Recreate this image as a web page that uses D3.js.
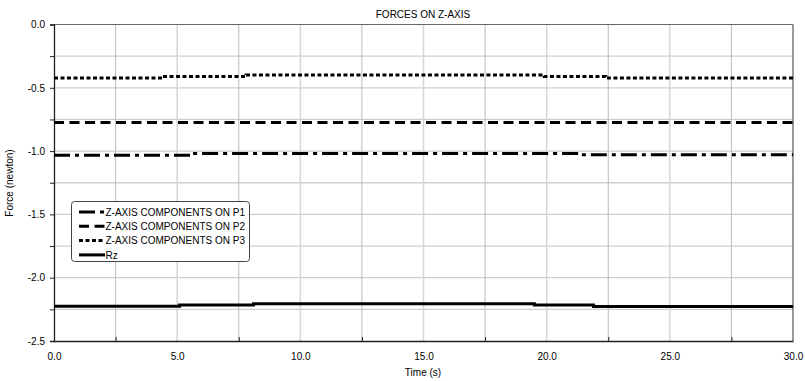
<!DOCTYPE html>
<html>
<head>
<meta charset="utf-8">
<script src="https://cdn.jsdelivr.net/npm/d3@7"></script>
<style>
  body { margin: 0; background: #fff; }
  svg text { font-family: "Liberation Sans", Arial, sans-serif; font-size: 10px; fill: #000; }
</style>
</head>
<body>
<svg id="chart" width="805" height="381"></svg>
<script>
(function () {
  'use strict';

  // step series: time of each change and the value held from it
  var p1Times = [0, 5.6, 21.4, 30],
    p1Values = [-1.033, -1.018, -1.028, -1.028],
    p2Times = [0, 30],
    p2Values = [-0.775, -0.775],
    p3Times = [0, 4.4, 7.8, 19.9, 22.4, 30],
    p3Values = [-0.422, -0.41, -0.398, -0.41, -0.422, -0.422],
    rzTimes = [0, 5.1, 8.1, 19.5, 21.9, 30],
    rzValues = [-2.226, -2.216, -2.206, -2.216, -2.228, -2.228];

  var xTicks = [0, 5, 10, 15, 20, 25, 30],
    xMinor = [2.5, 7.5, 12.5, 17.5, 22.5, 27.5],
    yTicks = [0, -0.25, -0.5, -0.75, -1, -1.25, -1.5, -1.75, -2, -2.25, -2.5];

  var series = [
    { name: 'Z-AXIS COMPONENTS ON P1', t: p1Times, v: p1Values, dash: '16,5,4,5' },
    { name: 'Z-AXIS COMPONENTS ON P2', t: p2Times, v: p2Values, dash: '10,5.5' },
    { name: 'Z-AXIS COMPONENTS ON P3', t: p3Times, v: p3Values, dash: '4,2.5' },
    { name: 'Rz', t: rzTimes, v: rzValues, dash: null }
  ];

  var svg = d3.select('#chart'),
    left = 54, right = 793, top = 24.5, bottom = 341;

  var x = d3.scaleLinear().domain([0, 30]).range([left, right]),
    y = d3.scaleLinear().domain([-2.5, 0]).range([bottom, top]);

  // grid
  svg.append('g').selectAll('line.h')
    .data(yTicks.slice(1, -1))
    .enter().append('line')
    .attr('x1', left).attr('x2', right)
    .attr('y1', function (d) { return y(d); })
    .attr('y2', function (d) { return y(d); })
    .attr('stroke', '#cfcfcf').attr('stroke-width', 1.3);

  svg.append('g').selectAll('line.v')
    .data(xMinor.concat(xTicks.slice(1, -1)))
    .enter().append('line')
    .attr('x1', function (d) { return x(d); })
    .attr('x2', function (d) { return x(d); })
    .attr('y1', top).attr('y2', bottom)
    .attr('stroke', function (d) { return d % 5 === 0 ? '#d6d6d6' : '#bcbcbc'; })
    .attr('stroke-width', function (d) { return d % 5 === 0 ? 1.5 : 1; });

  // frame top / right
  svg.append('line').attr('x1', left).attr('x2', right).attr('y1', top).attr('y2', top)
    .attr('stroke', '#666').attr('stroke-width', 1.2);
  svg.append('line').attr('x1', right).attr('x2', right).attr('y1', top).attr('y2', bottom)
    .attr('stroke', '#555').attr('stroke-width', 1.2);

  // axes
  var yAxis = svg.append('g')
    .attr('transform', 'translate(' + left + ',0)')
    .call(d3.axisLeft(y).tickValues(yTicks).tickSize(4).tickPadding(5)
      .tickFormat(function (d) {
        return Math.abs(d * 2 - Math.round(d * 2)) < 1e-9 ? d.toFixed(1) : '';
      }));

  var xAxis = svg.append('g')
    .attr('transform', 'translate(0,' + bottom + ')')
    .call(d3.axisBottom(x).tickValues(xTicks).tickSize(0).tickPadding(12)
      .tickFormat(function (d) { return d.toFixed(1); }));

  svg.append('g')
    .attr('transform', 'translate(0,' + bottom + ')')
    .call(d3.axisBottom(x).tickValues(xMinor).tickSize(-4).tickFormat(''))
    .select('.domain').remove();

  svg.selectAll('.domain').attr('stroke', '#222').attr('stroke-width', 1.3);
  svg.selectAll('.tick line').attr('stroke', '#222');
  svg.selectAll('.tick text').attr('font-size', 10).attr('fill', '#111')
    .attr('font-family', '"Liberation Sans", Arial, sans-serif');

  // lines
  var line = d3.line()
    .x(function (d) { return x(d[0]); })
    .y(function (d) { return y(d[1]); })
    .curve(d3.curveStepAfter);

  series.forEach(function (s) {
    svg.append('path')
      .datum(d3.zip(s.t, s.v))
      .attr('d', line)
      .attr('fill', 'none')
      .attr('stroke', '#000')
      .attr('stroke-width', 3)
      .attr('stroke-dasharray', s.dash);
  });

  // titles
  svg.append('text').attr('x', 423).attr('y', 18).attr('text-anchor', 'middle')
    .text('FORCES ON Z-AXIS');
  svg.append('text').attr('x', 423).attr('y', 376).attr('text-anchor', 'middle')
    .text('Time (s)');
  svg.append('text').attr('transform', 'translate(13,183) rotate(-90)')
    .attr('text-anchor', 'middle').text('Force (newton)');

  // legend
  var lg = svg.append('g');
  lg.append('rect').attr('x', 71.5).attr('y', 201.5).attr('width', 178).attr('height', 60)
    .attr('rx', 3).attr('fill', '#fff').attr('stroke', '#444').attr('stroke-width', 1);

  series.forEach(function (s, i) {
    var ly = 212 + i * 14.3;
    lg.append('line').attr('x1', 79).attr('x2', 105).attr('y1', ly).attr('y2', ly)
      .attr('stroke', '#000').attr('stroke-width', 3)
      .attr('stroke-dasharray', s.dash);
    lg.append('text').attr('x', 105.5).attr('y', ly + 3.6).text(s.name);
  });
})();
</script>
</body>
</html>
